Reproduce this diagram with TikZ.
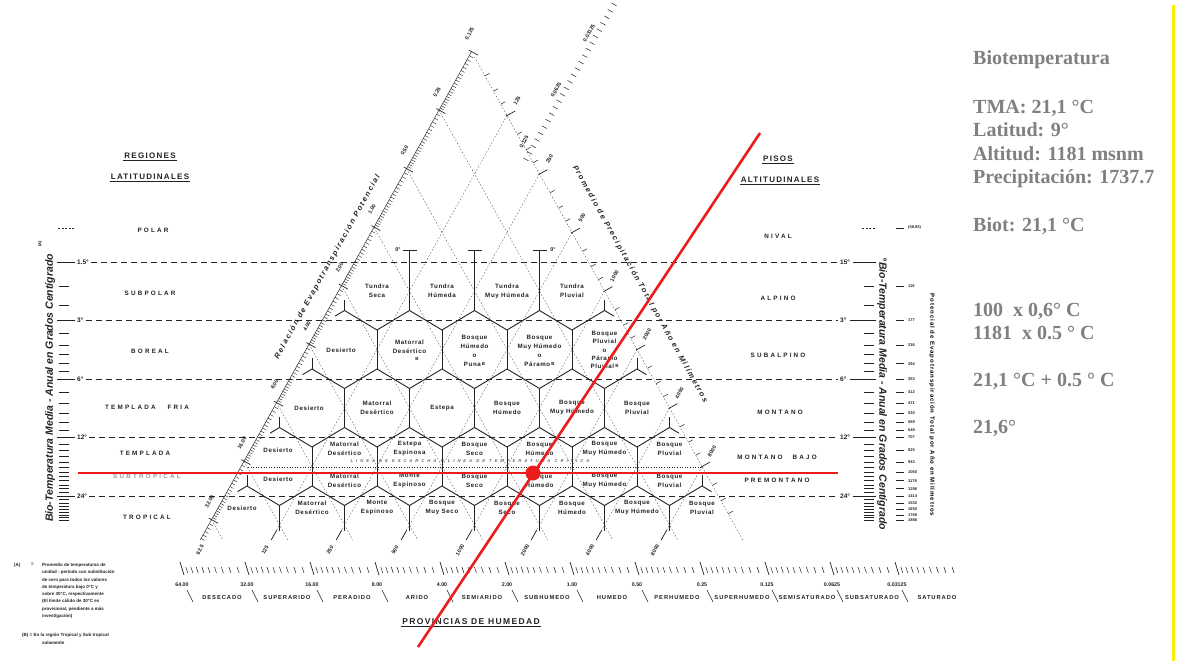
\documentclass[tikz,border=0pt]{standalone}
\usepackage{fontspec}
\setmainfont{Liberation Sans}
\newfontfamily\panelfont{Liberation Serif}
\newfontfamily\wideLS[LetterSpace=35]{Liberation Sans}
\newfontfamily\midLS[LetterSpace=16]{Liberation Sans}
\newfontfamily\smallLS[LetterSpace=10]{Liberation Sans}
\newfontfamily\titleLS[LetterSpace=22]{Liberation Sans}
\newfontfamily\xwideLS[LetterSpace=70]{Liberation Sans}
\definecolor{ink}{RGB}{35,35,35}
\definecolor{panelgray}{RGB}{128,128,128}
\definecolor{redline}{RGB}{236,28,28}
\definecolor{yel}{RGB}{255,238,0}
\tikzset{
  hexedge/.style={draw=ink, line width=0.9pt},
  guide/.style={draw=ink!80, line width=0.35pt, dash pattern=on 1.6pt off 1.8pt},
  templine/.style={draw=ink, line width=0.6pt, dash pattern=on 6pt off 4pt},
  frost/.style={draw=ink, line width=0.8pt, dash pattern=on 0.8pt off 1.8pt},
  tickmark/.style={draw=ink, line width=0.5pt},
  hexlab/.style={font=\smallLS\bfseries\fontsize{6.2}{9}\selectfont, align=center, inner sep=0pt, text=ink},
  region/.style={font=\wideLS\bfseries\fontsize{6.3}{7}\selectfont, inner sep=0pt, text=ink},
  headlab/.style={font=\midLS\bfseries\fontsize{8}{9}\selectfont, inner sep=1pt, text=ink},
  axislab/.style={font=\bfseries\itshape\fontsize{10.5}{11}\selectfont, inner sep=0pt, text=ink},
  sidetitle/.style={font=\titleLS\bfseries\itshape\fontsize{7.5}{8}\selectfont, inner sep=0pt, text=ink},
  scalelab/.style={font=\bfseries\fontsize{5.3}{6}\selectfont, inner sep=0pt, rotate=60.9, text=ink},
  templab/.style={font=\bfseries\fontsize{6.5}{7}\selectfont, inner sep=0pt, text=ink},
  petlab/.style={font=\bfseries\fontsize{4}{4.5}\selectfont, inner sep=0pt, anchor=west, text=ink},
  provlab/.style={font=\midLS\bfseries\fontsize{5.8}{6}\selectfont, inner sep=0pt, text=ink},
  panel/.style={font=\panelfont\bfseries\fontsize{20}{24}\selectfont, text=panelgray, anchor=base west, inner sep=0pt},
  note/.style={font=\bfseries\fontsize{4.5}{7.3}\selectfont, inner sep=0pt, align=left, anchor=north west, text=ink},
  redl/.style={draw=redline, line width=2.6pt}
}
\newcommand{\supB}{\,\raisebox{1.5pt}{\fontsize{4.5}{5}\selectfont B}}
\begin{document}
\begin{tikzpicture}[x=1pt,y=-1pt]
\useasboundingbox (0,0) rectangle (1180,661);
\fill[white] (0,0) rectangle (1180,661);

% ---------------- temperature guide lines ----------------
\foreach \y/\lab/\rlab [count=\c] in {262/1.5°/15°, 320.5/3°/3°, 379/6°/6°, 437.5/12°/12°, 496/24°/24°} {
  \draw[tickmark] (57,\y) -- (75,\y);
  \node[templab, anchor=west, name=tl\c] at (77,\y) {\lab};
  \draw[templine] (tl\c.east) ++(2,0) -- (838,\y);
  \node[templab, anchor=west, name=tr\c] at (840,\y) {\rlab};
  \draw[tickmark] (tr\c.east) ++(3,0) -- (876,\y);
}
% temperature ticks, left and right
\foreach \T in {1.5,2,2.5,3,3.5,4,4.5,5,5.5,6,7,8,9,10,11,13,14,15,16,17,18,19,20,21,22,23,25,26,27,28,29,30,31,32} {
  \pgfmathsetmacro\ty{262+58.5*ln(\T/1.5)/ln(2)}
  \draw[tickmark] (59,\ty) -- (69,\ty);
  \draw[tickmark] (864,\ty) -- (874,\ty);
}
\draw[tickmark, dash pattern=on 2pt off 1.5pt] (58,228) -- (75,228);
\draw[tickmark, dash pattern=on 2pt off 1.5pt] (862,228) -- (876,228);
% PET ticks on the right
\foreach \T/\p in {1/(58.93),2/118,3/177,4/236,5/294,6/353,7/412,8/471,9/530,10/589,11/648,12/707,14/825,16/943,18/1060,20/1178,22/1296,24/1414,26/1532,28/1650,30/1768,32/1886} {
  \pgfmathsetmacro\ty{262+58.5*ln(\T/1.5)/ln(2)}
  \draw[tickmark] (896,\ty) -- (904,\ty);
  \node[petlab, name=pet\T] at (908,\ty) {\p};
}

% ---------------- axis titles ----------------
\node[axislab, rotate=90, name=lefttitle] at (50,388) {Bio-Temperatura Media - Anual en Grados Centígrado};
\node[font=\bfseries\fontsize{4}{4}\selectfont, rotate=90, name=noteA] at (40,244) {(A)};
\node[axislab, rotate=-90, name=righttitle] at (882,394) {°Bio-Temperatura Media - Anual en Grados Centígrado};
\node[font=\midLS\bfseries\fontsize{6}{6}\selectfont, rotate=-90, name=pettitle] at (932,405) {Potencial de Evapotranspiración Total por Año en Milímetros};

% ---------------- regions ----------------
\node[headlab, name=reg1] at (150,156) {REGIONES};
\node[headlab, name=reg2] at (150,177) {LATITUDINALES};
\draw[line width=0.8pt, ink] (reg1.south west) -- (reg1.south east);
\draw[line width=0.8pt, ink] (reg2.south west) -- (reg2.south east);
\node[headlab, name=pis1] at (778,159) {PISOS};
\node[headlab, name=pis2] at (780,180) {ALTITUDINALES};
\draw[line width=0.8pt, ink] (pis1.south west) -- (pis1.south east);
\draw[line width=0.8pt, ink] (pis2.south west) -- (pis2.south east);

\node[region, name=rpolar] at (153,230) {POLAR};
\node[region, name=rsubpolar] at (150,293) {SUBPOLAR};
\node[region, name=rboreal] at (150,351) {BOREAL};
\node[region, name=rtfria] at (147,407) {TEMPLADA\hspace{12pt}FRIA};
\node[region, name=rtempl] at (145,453) {TEMPLADA};
\node[region, name=rsubtrop, text=ink!45] at (147,476) {SUBTROPICAL};
\node[region, name=rtrop] at (147,517) {TROPICAL};

\node[region, name=pnival] at (778,236) {NIVAL};
\node[region, name=palpino] at (778,298) {ALPINO};
\node[region, name=psubalp] at (778,355) {SUBALPINO};
\node[region, name=pmont] at (780,412) {MONTANO};
\node[region, name=pmbajo] at (777,457) {MONTANO\hspace{10pt}BAJO};
\node[region, name=ppremont] at (777,480) {PREMONTANO};

% ---------------- diagonal guide lines ----------------
\foreach \a in {-5,...,2} {
  \draw[guide] (374+32.5*\a, 227.1-58.5*\a) -- (547.8+65*\a, 540);
}
\foreach \b in {0,...,6} {
  \draw[guide] (507+32.5*\b, 115.5+58.5*\b) -- (271.2+65*\b, 540);
  \draw[tickmark, line width=0.7pt] (276.8+65*\b, 530) -- (271.2+65*\b, 540);
}
% left scale (ratio)
\draw[ink, line width=0.45pt] (200.2,540) -- (471.5,51.6);
\foreach \k in {-6,...,2} {
  \foreach \m in {1.05,1.1,...,1.96} {
    \pgfmathsetmacro\aa{\k+1-ln(\m)/ln(2)}
    \pgfmathsetmacro\px{374+32.5*\aa}
    \pgfmathsetmacro\py{227.1-58.5*\aa}
    \ifdim\py pt<540pt \draw[tickmark, line width=0.4pt] (\px,\py) -- ++(3.5,1.95); \fi
  }
}
\foreach \a/\v in {3/0.125,2/0.25,1/0.50,0/1.00,-1/2.00,-2/4.00,-3/8.00,-4/16.00,-5/32.00} {
  \draw[tickmark, line width=0.7pt] (374+32.5*\a, 227.1-58.5*\a) ++(-2.6,-1.5) -- ++(9,5);
  \node[scalelab, name=lv\a] at (372+32.5*\a, 209.1-58.5*\a) {\v};
}
% right scale (precipitation)
\draw[guide] (474.5,57) -- (742.8,540);
\foreach \k in {-1,...,6} {
  \foreach \m in {1.25,1.5,1.75} {
    \pgfmathsetmacro\bb{\k+ln(\m)/ln(2)}
    \pgfmathsetmacro\qx{507+32.5*\bb}
    \pgfmathsetmacro\qy{115.5+58.5*\bb}
    \ifdim\qy pt<540pt \draw[tickmark] (\qx,\qy) -- ++(4.5,-2.5); \fi
  }
}
\foreach \b/\v in {0/125,1/250,2/500,3/1000,4/2000,5/4000,6/8000} {
  \draw[tickmark, line width=0.7pt] (507+32.5*\b, 115.5+58.5*\b) ++(-1,0.6) -- ++(9,-5);
  \node[scalelab, name=rv\b] at (517+32.5*\b, 100.5+58.5*\b) {\v};
}
% bottom precipitation labels
\foreach \b/\v in {-1/62.5,0/125,1/250,2/500,3/1000,4/2000,5/4000,6/8000} {
  \node[scalelab, name=bv\b] at (265+65*\b, 550) {\v};
}
% extra ratio scale at top right
\foreach \j in {0,...,24} {
  \pgfmathsetmacro\sx{527+88*\j/24}
  \pgfmathsetmacro\sy{160-155*\j/24}
  \draw[tickmark] (\sx,\sy) ++(1.5,0.8) -- ++(-5,-2.8);
}
\node[scalelab, name=ex1] at (524,142) {0.125};
\node[scalelab, name=ex2] at (556,90) {0.0625};
\node[scalelab, name=ex3] at (589,33) {0.03125};

% ---------------- frost line ----------------
\draw[frost] (248,467) -- (703,467);
\node[font=\xwideLS\bfseries\itshape\fontsize{4.2}{4.5}\selectfont, text=ink!70, inner sep=0pt, name=frosttxt] at (470,461) {LINEA DE ESCARCHA O LINEA DE TEMPERATURA CRITICA};

% ---------------- hexagon network ----------------
\foreach \r/\n in {1/3,2/4,3/5,4/6,5/7} {
  \foreach \i in {0,...,\n} {
    \pgfmathsetmacro\cx{377+65*\i-32.5*(\r-1)}
    \pgfmathsetmacro\cy{291+58.5*(\r-1)}
    \ifnum\r<5
      \draw[hexedge] (\cx-32.5,\cy+19.5) -- (\cx,\cy+39) -- (\cx+32.5,\cy+19.5);
      \ifnum\i<\n \draw[hexedge] (\cx+32.5,\cy-19.5) -- (\cx+32.5,\cy+19.5); \fi
      \ifnum\i=0 \draw[hexedge] (\cx-32.5,\cy+19.5) -- ++(0,-11); \fi
      \ifnum\i=\n \draw[hexedge] (\cx+32.5,\cy+19.5) -- ++(0,-11); \fi
    \else
      \ifnum\i<\n \draw[hexedge] (\cx+32.5,\cy-19.5) -- (\cx+32.5,\cy+6); \fi
    \fi
    \ifnum\r>1
      \ifnum\i=0 \draw[hexedge] (\cx,\cy-39) -- ++(-9.4,5.65); \fi
      \ifnum\i=\n \draw[hexedge] (\cx,\cy-39) -- ++(9.4,5.65); \fi
    \else
      \ifnum\i<\n \draw[hexedge] (\cx+32.5,\cy-19.5) -- (\cx+32.5,250) ++(-7,0) -- ++(14,0); \fi
    \fi
  }
}
\node[templab, font=\bfseries\fontsize{5.5}{6}\selectfont, name=zero1] at (398,250) {0°};
\node[templab, font=\bfseries\fontsize{5.5}{6}\selectfont, name=zero2] at (553,250) {0°};

% ---------------- hexagon labels ----------------
\foreach \x/\y/\lab [count=\c] in {
  377/291/{Tundra\\Seca}, 442/291/{Tundra\\Húmeda}, 507/291/{Tundra\\Muy Húmeda}, 572/291/{Tundra\\Pluvial},
  341/350/{Desierto}, 409.5/351/{Matorral\\Desértico\\\hspace*{14pt}\supB}, 474.5/351/{Bosque\\Húmedo\\o\\Puna\supB}, 539.5/351/{Bosque\\Muy Húmedo\\o\\Páramo\supB},
  309/408/{Desierto}, 377/408/{Matorral\\Desértico}, 442/408/{Estepa}, 507/408/{Bosque\\Húmedo}, 572/408/{Bosque\\Muy Húmedo}, 637/408/{Bosque\\Pluvial},
  278/450/{Desierto}, 344.5/449/{Matorral\\Desértico}, 409.5/449/{Estepa\\Espinosa}, 474.5/449/{Bosque\\Seco}, 539.5/449/{Bosque\\Húmedo}, 604.5/449/{Bosque\\Muy Húmedo}, 669.5/449/{Bosque\\Pluvial},
  278/479/{Desierto}, 344.5/481/{Matorral\\Desértico}, 409.5/481/{Monte\\Espinoso}, 474.5/481/{Bosque\\Seco}, 539.5/481/{Bosque\\Húmedo}, 604.5/481/{Bosque\\Muy Húmedo}, 669.5/481/{Bosque\\Pluvial},
  242/508/{Desierto}, 312/508/{Matorral\\Desértico}, 377/508/{Monte\\Espinoso}, 442/508/{Bosque\\Muy Seco}, 507/508/{Bosque\\Seco}, 572/508/{Bosque\\Húmedo}, 637/508/{Bosque\\Muy Húmedo}, 702/508/{Bosque\\Pluvial}} {
  \node[hexlab, name=hl\c] at (\x,\y) {\lab};
}
\node[hexlab, font=\smallLS\bfseries\fontsize{6.2}{8.2}\selectfont, name=hlpluv] at (604.5,350) {Bosque\\Pluvial\\o\\Páramo\\Pluvial\supB};

% ---------------- axis titles along triangle ----------------
\node[sidetitle, rotate=60.9, name=reltitle] at (327.5,267) {Relación de Evapotranspiración Potencial};
\node[sidetitle, rotate=-60.9, name=promtitle] at (640,284) {Promedio de Precipitación Total por Año en Milímetros};

% ---------------- bottom humidity scale ----------------
\foreach \k in {0,...,11} {
  \pgfmathsetmacro\bx{182+65*\k}
  \draw[tickmark, line width=0.7pt] (\bx-2,562) -- (\bx+2,575);
  \foreach \m in {1.1,1.2,1.3,1.4,1.5,1.6,1.7,1.8,1.9} {
    \pgfmathsetmacro\mx{182+65*(\k+1-ln(\m)/ln(2))}
    \draw[tickmark] (\mx-1,567) -- (\mx+1,573);
  }
}
\foreach \v [count=\k from 0] in {64.00,32.00,16.00,8.00,4.00,2.00,1.00,0.50,0.25,0.125,0.0625,0.03125} {
  \node[templab, font=\bfseries\fontsize{5.3}{6}\selectfont, name=hv\k] at (182+65*\k,585) {\v};
  \draw[tickmark, line width=0.6pt] (187+65*\k,590) -- (193+65*\k,602);
}
\foreach \p [count=\k from 0] in {DESECADO,SUPERARIDO,PERADIDO,ARIDO,SEMIARIDO,SUBHUMEDO,HUMEDO,PERHUMEDO,SUPERHUMEDO,SEMISATURADO,SUBSATURADO,SATURADO} {
  \node[provlab, name=pv\k] at (222+65*\k,597) {\p};
}
\node[headlab, font=\midLS\bfseries\fontsize{8.5}{9}\selectfont, name=provtitle] at (471,622) {PROVINCIAS DE HUMEDAD};
\draw[line width=0.8pt, ink] (provtitle.south west) -- (provtitle.south east);

% ---------------- footnotes ----------------
\node[note, name=fnA] at (14,563) {(A)};
\node[note, name=fnAeq] at (31,563) {=};
\node[note, name=fnAtxt] at (42,563) {Promedio de temperaturas de\\unidad - período con substitución\\de cero para todos los valores\\de temperatura bajo 0°C y\\sobre 30°C, respectivamente\\(El límite cálido de 30°C es\\provisional, pendiente a más\\investigación)};
\node[note, name=fnB] at (22,633) {(B) = En la región Tropical y Sub tropical};
\node[note, name=fnB2] at (42,641) {solamente};

% ---------------- right panel ----------------
\node[panel, name=p1] at (973,65) {Biotemperatura};
\node[panel, name=p2] at (973,113) {TMA: 21,1 °C};
\node[panel, name=p3] at (973,136) {Latitud: 9°};
\node[panel, name=p4] at (973,160) {Altitud: 1181 msnm};
\node[panel, name=p5] at (973,183) {Precipitación: 1737.7};
\node[panel, name=p6] at (973,231) {Biot: 21,1 °C};
\node[panel, name=p7] at (973,316) {100\ \ x 0,6° C};
\node[panel, name=p8] at (973,339) {1181\ \ x 0.5 ° C};
\node[panel, name=p9] at (973,386) {21,1 °C + 0.5 ° C};
\node[panel, name=p10] at (973,433) {21,6°};
\coordinate (yt) at (1173,5);
\coordinate (yb) at (1173,661);
\draw[yel, line width=3pt] (yt) -- (yb);

% ---------------- red overlay ----------------
\coordinate (rh1) at (78,473);
\coordinate (rh2) at (838,473);
\coordinate (rd1) at (760,133);
\coordinate (rd2) at (418,647);
\draw[redl] (rh1) -- (rh2);
\draw[redl] (rd1) -- (rd2);
\fill[redline] (533,473) circle (7.5);
\end{tikzpicture}
\end{document}
